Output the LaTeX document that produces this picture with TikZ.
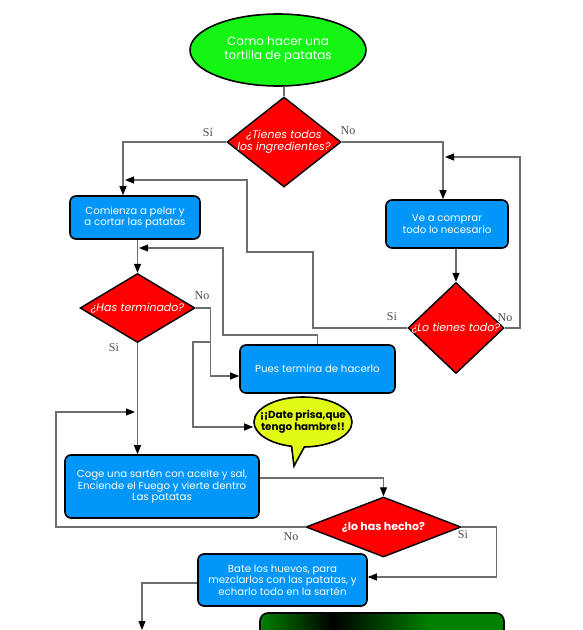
\documentclass[tikz,border=0pt]{standalone}
\usepackage{fontspec}
\setmainfont{Poppins}
\newfontfamily\serifa{Liberation Serif}
\usetikzlibrary{shapes.geometric,shapes.callouts,arrows.meta}
\definecolor{azul}{RGB}{0,150,250}
\definecolor{rojo}{RGB}{255,0,0}
\definecolor{verde}{RGB}{20,245,20}
\definecolor{verdeosc}{RGB}{0,130,0}
\definecolor{amarillo}{RGB}{225,250,20}
\definecolor{linea}{RGB}{110,110,110}
\pgfdeclarehorizontalshading{degradado}{100bp}{color(0bp)=(verdeosc); color(25bp)=(verdeosc); color(40bp)=(black); color(60bp)=(verdeosc); color(100bp)=(verdeosc)}

\begin{document}
\begin{tikzpicture}[x=1pt, y=-1pt,
every node/.style = {align=center, inner sep=0pt, font=\fontsize{10.2}{11.5}\selectfont},
caja/.style = {shape=rectangle, rounded corners=6pt, draw, line width=1.6pt, fill=azul, text=white},
pregunta/.style = {shape=diamond, draw, line width=1.4pt, fill=rojo},
textopreg/.style = {text=white, font=\fontsize{11}{12}\selectfont\itshape},
flecha/.style = {draw=linea, line width=1.1pt, -{Triangle[length=9pt,width=7pt,color=black]}},
etiqueta/.style = {text=black!70, font=\serifa\fontsize{12}{14}\selectfont}]
\useasboundingbox (0,0) rectangle (583,630);
\node[shape=ellipse, draw, line width=1.6pt, fill=verde, text=white, minimum width=176pt, minimum height=72pt, font=\fontsize{12}{14}\selectfont] (inicio) at (278,50) {Como hacer una\\tortilla de patatas};
\node[pregunta, minimum width=114pt, minimum height=90pt] (tienes) at (284,142) {};
\node[textopreg] (tienes-t) at (tienes) {¿Tienes todos\\los ingredientes?};
\node[caja, minimum width=130pt, minimum height=43pt] (pelar) at (135,217.5) {Comienza a pelar y\\a cortar las patatas};
\node[caja, minimum width=122pt, minimum height=48pt] (comprar) at (447,224) {Ve a comprar\\todo lo necesario};
\node[pregunta, minimum width=115pt, minimum height=69pt] (terminado) at (137.5,308) {};
\node[textopreg] (terminado-t) at (terminado) {¿Has terminado?};
\node[pregunta, minimum width=96pt, minimum height=91pt] (todo) at (456,328) {};
\node[textopreg] (todo-t) at (todo) {¿Lo tienes todo?};
\node[caja, minimum width=155pt, minimum height=48pt] (termina) at (317.5,369) {Pues termina de hacerlo};
\node[ellipse callout, callout absolute pointer={(294,466)}, draw, line width=1.6pt, fill=amarillo, minimum width=98pt, minimum height=50pt] (prisa) at (303,422) {};
\node[font=\fontsize{10.3}{11.5}\selectfont\bfseries] (prisa-t) at (prisa) {¡¡Date prisa,que\\tengo hambre!!};
\node[caja, minimum width=194pt, minimum height=63pt] (sarten) at (162,486.5) {Coge una sartén con aceite y sal,\\Enciende el Fuego y vierte dentro\\Las patatas};
\node[pregunta, minimum width=155pt, minimum height=60pt] (hecho) at (383.5,527) {};
\node[textopreg, font=\fontsize{11}{12}\selectfont\bfseries] (hecho-t) at (hecho) {¿lo has hecho?};
\node[caja, minimum width=169pt, minimum height=52pt] (batir) at (282.5,580) {Bate los huevos, para\\mezclarlos con las patatas, y\\echarlo todo en la sartén};
\begin{scope}
\clip (0,0) rectangle (583,630);
\node[draw, line width=1.6pt, rounded corners=8pt, shading=degradado, minimum width=244pt, minimum height=60pt] (final) at (382,643) {};
\end{scope}
\coordinate (fin) at (142,630);
\draw[draw=linea, line width=1.1pt] (tienes.north) -- (tienes.north |- inicio.south);
\draw[flecha] (tienes.west) -| ([xshift=-12pt]pelar.north);
\draw[flecha] (tienes.east) -| ([xshift=-4pt]comprar.north);
\draw[flecha] (terminado.north |- pelar.south) -- (terminado.north);
\draw[flecha] (todo.north |- comprar.south) -- (todo.north);
\draw[flecha] (todo.east) -| (520,157) -- (445,157);
\draw[flecha] (todo.west) -| (313,252) -| (247,180) -- (125,180);
\draw[flecha] (terminado.east) -- ++(15,0) |- ([yshift=-7pt]termina.west);
\draw[flecha] (210,342) -| (193,427) -- ([yshift=-5pt]prisa.west);
\draw[flecha] (termina.north) |- (223,335) |- (139,248);
\draw[flecha] (terminado.south) -- (terminado.south |- sarten.north);
\draw[flecha] ([yshift=8.5pt]sarten.east) -| (hecho.north);
\draw[flecha] (hecho.west) -| (56,412) -- (135,412);
\draw[flecha] (hecho.east) -- ++(35,0) |- ([yshift=3pt]batir.east);
\draw[flecha] ([yshift=-3pt]batir.west) -| (fin);
\node[etiqueta] (si1) at (208,132) {Sí};
\node[etiqueta] (no1) at (348,131) {No};
\node[etiqueta] (no2) at (202,296) {No};
\node[etiqueta] (si2) at (114,348) {Si};
\node[etiqueta] (si3) at (392,317) {Si};
\node[etiqueta] (no3) at (505,318) {No};
\node[etiqueta] (no4) at (291,537) {No};
\node[etiqueta] (si4) at (463,535) {Si};
\end{tikzpicture}
\end{document}
